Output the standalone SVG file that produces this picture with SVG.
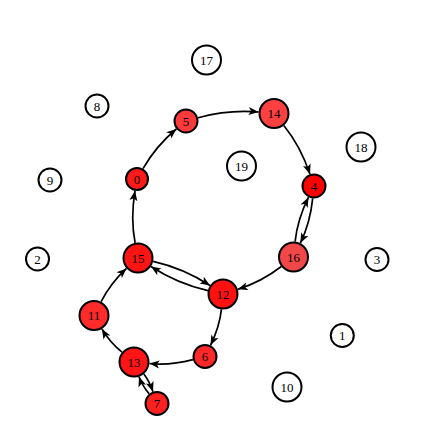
<svg xmlns="http://www.w3.org/2000/svg" width="435" height="442" viewBox="0 0 435 442">
<defs>
<marker id="arr" viewBox="-11 -5 12 10" markerWidth="12" markerHeight="10" refX="0" refY="0" orient="auto" markerUnits="userSpaceOnUse">
<path d="M0,0 L-10,-4 L-7.5,0 L-10,4 Z" fill="#000"/>
</marker>
</defs>
<style>
.n circle{stroke:#000;stroke-width:2}
.n text{font-family:"Liberation Serif","DejaVu Serif",serif;font-size:13px;text-anchor:middle;dominant-baseline:central;fill:#000}
.e path{fill:none;stroke:#000;stroke-width:1.7;marker-end:url(#arr)}
</style>
<rect width="435" height="442" fill="#fff"/>
<g id="edges" class="e">
<path d="M143,168.6 Q156.3,145.6 176.4,129"/>
<path d="M198.1,117.7 Q229.3,109.3 258.6,112"/>
<path d="M283.8,125.5 Q300.5,146.15 310,174.2"/>
<path d="M312.7,198.4 Q310.1,223.3 300.35,243.1"/>
<path d="M295.1,241.6 Q297.4,219.7 308.5,197.2"/>
<path d="M281.3,266.5 Q261.6,281.8 237.8,289.3"/>
<path d="M153.1,261.4 Q183.7,268.35 210,285.5"/>
<path d="M207.9,290.6 Q177.3,283.65 151,266.5"/>
<path d="M221.4,309.4 Q219.6,326.9 210.5,345.3"/>
<path d="M192.9,359.6 Q170,365.6 149.4,363.5"/>
<path d="M122,352.2 Q109.8,342.35 101.9,328.9"/>
<path d="M101.1,301.7 Q110.8,282.8 126.5,268.4"/>
<path d="M135.1,242.8 Q130.4,218.6 135,190.8"/>
<path d="M143.8,374 Q149.2,380.7 153,391.7"/>
<path d="M149.1,393.8 Q141.8,384.8 139,376.7"/>
</g>
<g id="node17" class="n"><circle cx="206.5" cy="60" r="14.5" fill="#fff"/><text x="206.5" y="60">17</text></g>
<g id="node8" class="n"><circle cx="97" cy="106" r="11.5" fill="#fff"/><text x="97" y="106">8</text></g>
<g id="node19" class="n"><circle cx="241.5" cy="166" r="14.5" fill="#fff"/><text x="241.5" y="166">19</text></g>
<g id="node9" class="n"><circle cx="50" cy="180" r="11.5" fill="#fff"/><text x="50" y="180">9</text></g>
<g id="node18" class="n"><circle cx="361" cy="147" r="14.5" fill="#fff"/><text x="361" y="147">18</text></g>
<g id="node2" class="n"><circle cx="37.5" cy="259" r="11.5" fill="#fff"/><text x="37.5" y="259">2</text></g>
<g id="node3" class="n"><circle cx="377" cy="259.5" r="11.5" fill="#fff"/><text x="377" y="259.5">3</text></g>
<g id="node1" class="n"><circle cx="342.3" cy="335.5" r="11.5" fill="#fff"/><text x="342.3" y="335.5">1</text></g>
<g id="node10" class="n"><circle cx="287" cy="387" r="14.5" fill="#fff"/><text x="287" y="387">10</text></g>
<g id="node0" class="n"><circle cx="137" cy="179" r="11" fill="#ff1a1a"/><text x="137" y="179">0</text></g>
<g id="node5" class="n"><circle cx="186" cy="121" r="11.5" fill="#ff3a3a"/><text x="186" y="121">5</text></g>
<g id="node14" class="n"><circle cx="274" cy="113.5" r="14.5" fill="#ff4040"/><text x="274" y="113.5">14</text></g>
<g id="node4" class="n"><circle cx="314" cy="186" r="11.5" fill="#ff0000"/><text x="314" y="186">4</text></g>
<g id="node16" class="n"><circle cx="293.5" cy="257" r="14.5" fill="#f04848"/><text x="293.5" y="257">16</text></g>
<g id="node15" class="n"><circle cx="138" cy="258" r="14.5" fill="#ff1414"/><text x="138" y="258">15</text></g>
<g id="node12" class="n"><circle cx="223" cy="294" r="14.5" fill="#ff1111"/><text x="223" y="294">12</text></g>
<g id="node11" class="n"><circle cx="94" cy="315.5" r="14.5" fill="#ff2a2a"/><text x="94" y="315.5">11</text></g>
<g id="node13" class="n"><circle cx="134" cy="362" r="14.5" fill="#ff1515"/><text x="134" y="362">13</text></g>
<g id="node6" class="n"><circle cx="205" cy="356.5" r="11.5" fill="#ff2828"/><text x="205" y="356.5">6</text></g>
<g id="node7" class="n"><circle cx="157" cy="403.5" r="11.5" fill="#ff2020"/><text x="157" y="403.5">7</text></g>
</svg>
